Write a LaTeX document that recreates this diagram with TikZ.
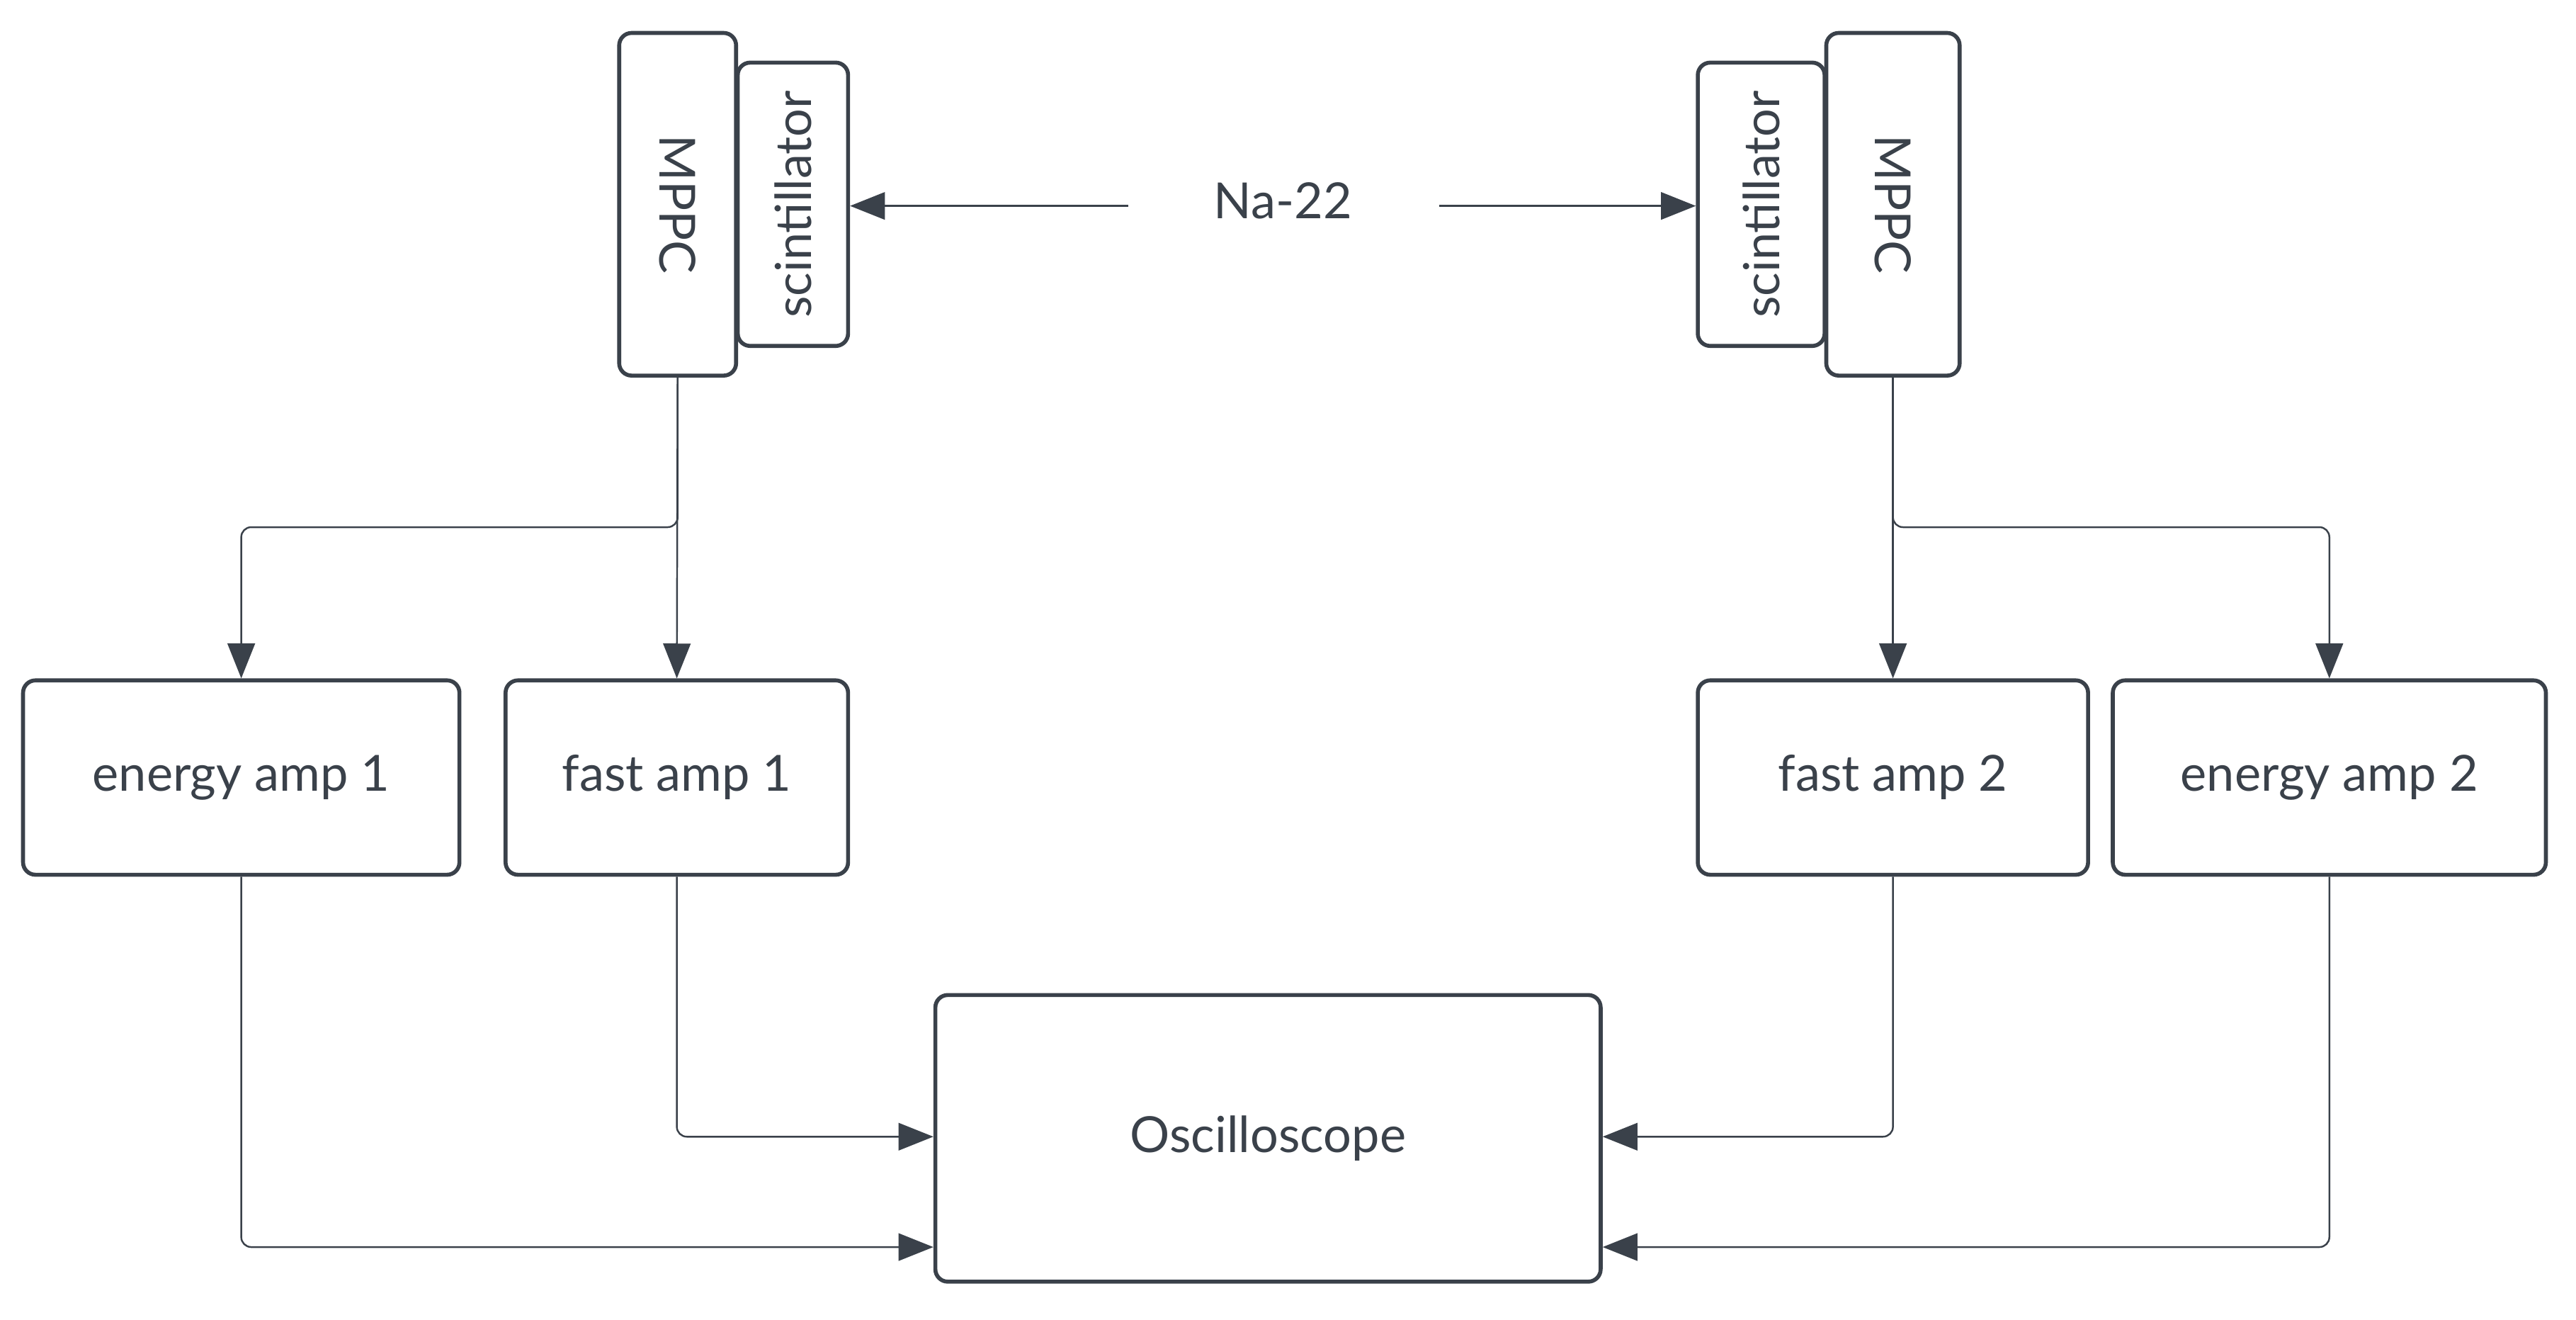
\documentclass[tikz,border=0pt]{standalone}
\usepackage{fontspec}
\setmainfont{Lato}
\usetikzlibrary{arrows.meta}
\definecolor{ink}{HTML}{3A414A}
\begin{document}
\begin{tikzpicture}[x=0.02325cm,y=-0.02325cm,
 box/.style={draw=ink,line width=1.6pt,rounded corners=5pt,inner sep=0pt,text=ink,font=\fontsize{20}{24}\selectfont},
 con/.style={draw=ink,line width=0.7pt,rounded corners=4pt,-{Triangle[length=14pt,width=11pt]}}]
\useasboundingbox (0,0) rectangle (1564.3,800.9);
\node[box,minimum width=71*0.02325cm,minimum height=208*0.02325cm] (m1) at (411.5,124) {};
\node[text=ink,rotate=-90,font=\fontsize{20}{24}\selectfont] at (m1) {MPPC};
\node[box,minimum width=67*0.02325cm,minimum height=172*0.02325cm] (s1) at (481.5,124) {};
\node[text=ink,rotate=90,font=\fontsize{20}{24}\selectfont] at (s1) {scintillator};
\node[box,minimum width=77*0.02325cm,minimum height=172*0.02325cm] (s2) at (1069.5,124) {};
\node[text=ink,rotate=90,font=\fontsize{20}{24}\selectfont] at (s2) {scintillator};
\node[box,minimum width=81*0.02325cm,minimum height=208*0.02325cm] (m2) at (1149.5,124) {};
\node[text=ink,rotate=-90,font=\fontsize{20}{24}\selectfont] at (m2) {MPPC};
\node[text=ink,font=\fontsize{20}{24}\selectfont] (na) at (779,122) {Na-22};
\coordinate (naL) at (685,125); \coordinate (naR) at (874,125);
\node[box,minimum width=265*0.02325cm,minimum height=118*0.02325cm] (e1) at (146.5,472) {energy amp 1};
\node[box,minimum width=208*0.02325cm,minimum height=118*0.02325cm] (f1) at (411,472) {fast amp 1};
\node[box,minimum width=237*0.02325cm,minimum height=118*0.02325cm] (f2) at (1149.5,472) {fast amp 2};
\node[box,minimum width=263*0.02325cm,minimum height=118*0.02325cm] (e2) at (1414.5,472) {energy amp 2};
\node[box,minimum width=404*0.02325cm,minimum height=174*0.02325cm] (o) at (770,691) {Oscilloscope};
\draw[con] (naL) -- (s1.east|-naL);
\draw[con] (naR) -- (s2.west|-naR);
\draw[con] (m1.south) -- (f1.north);
\draw[con] (m1.south) |- (300,320) -| (e1.north);
\draw[con] (m2.south) -- (f2.north);
\draw[con] (m2.south) |- (1300,320) -| (e2.north);
\draw[con] (f1.south) |- (o.west|-0,690);
\draw[con] (e1.south) |- (o.west|-0,757);
\draw[con] (f2.south) |- (o.east|-0,690);
\draw[con] (e2.south) |- (o.east|-0,757);
\end{tikzpicture}
\end{document}
